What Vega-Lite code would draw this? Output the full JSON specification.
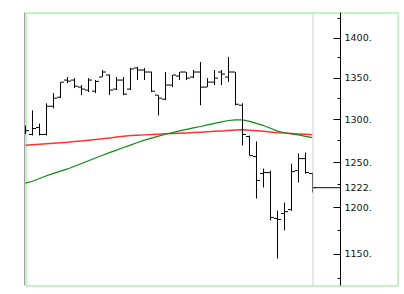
{
  "$schema": "https://vega.github.io/schema/vega-lite/v6.json",
  "width": 372,
  "height": 273,
  "autosize": "none",
  "padding": {"left": 25.5, "top": 12.5, "right": 6.5, "bottom": 8.5},
  "background": "white",
  "config": {
    "view": {"stroke": "#88e888", "strokeWidth": 1},
    "axis": {"translate": 0}
  },
  "data": {"values": [
    {"i":0,"o":1288,"h":1293,"l":1283,"c":1287,"s":1227.0,"g":1270.0},
    {"i":1,"o":1282.6,"h":1311.0,"l":1281.4,"c":1289.5,"s":1229.2,"g":1270.5},
    {"i":2,"o":1290.7,"h":1295.3,"l":1281.4,"c":1282.6,"s":1232.3,"g":1271.1},
    {"i":3,"o":1282.6,"h":1319.5,"l":1281.4,"c":1315.9,"s":1235.3,"g":1271.7},
    {"i":4,"o":1315.9,"h":1331.7,"l":1313.4,"c":1325.6,"s":1238.0,"g":1272.3},
    {"i":5,"o":1326.8,"h":1345.1,"l":1325.6,"c":1345.1,"s":1240.5,"g":1272.9},
    {"i":6,"o":1347.6,"h":1351.3,"l":1343.9,"c":1346.3,"s":1243.0,"g":1273.5},
    {"i":7,"o":1347.6,"h":1350,"l":1337.8,"c":1340.2,"s":1246.1,"g":1274.3},
    {"i":8,"o":1339.0,"h":1341.5,"l":1329.3,"c":1336.6,"s":1249.2,"g":1275.1},
    {"i":9,"o":1335.4,"h":1350,"l":1332.9,"c":1347.6,"s":1252.3,"g":1275.9},
    {"i":10,"o":1334.1,"h":1347.6,"l":1331.7,"c":1346,"s":1255.4,"g":1276.7},
    {"i":11,"o":1351.3,"h":1360,"l":1351.3,"c":1357.5,"s":1258.6,"g":1277.5},
    {"i":12,"o":1353.8,"h":1354.5,"l":1329.3,"c":1335.4,"s":1261.6,"g":1278.5},
    {"i":13,"o":1336.6,"h":1351.3,"l":1335.4,"c":1347.6,"s":1264.5,"g":1279.5},
    {"i":14,"o":1347.6,"h":1351.3,"l":1329.3,"c":1330.5,"s":1267.4,"g":1280.4},
    {"i":15,"o":1336.6,"h":1362.5,"l":1335.4,"c":1361.3,"s":1270.2,"g":1281.3},
    {"i":16,"o":1362.5,"h":1363.8,"l":1347.6,"c":1360,"s":1273.2,"g":1281.7},
    {"i":17,"o":1360,"h":1362.5,"l":1347.6,"c":1357.5,"s":1276.0,"g":1282.1},
    {"i":18,"o":1357.5,"h":1358,"l":1332.9,"c":1334.1,"s":1278.4,"g":1282.5},
    {"i":19,"o":1329.3,"h":1329.3,"l":1304.9,"c":1325.6,"s":1280.6,"g":1282.9},
    {"i":20,"o":1324.4,"h":1357.5,"l":1323.2,"c":1341.5,"s":1282.8,"g":1283.3},
    {"i":21,"o":1341.5,"h":1353.8,"l":1339.0,"c":1353.8,"s":1284.8,"g":1283.7},
    {"i":22,"o":1352.5,"h":1357.5,"l":1347.6,"c":1357.5,"s":1286.7,"g":1284.0},
    {"i":23,"o":1357.5,"h":1357.5,"l":1347.6,"c":1350,"s":1288.5,"g":1284.4},
    {"i":24,"o":1351.3,"h":1360,"l":1350,"c":1357.5,"s":1290.3,"g":1284.8},
    {"i":25,"o":1357.5,"h":1370,"l":1317.1,"c":1339.0,"s":1291.9,"g":1285.2},
    {"i":26,"o":1339.0,"h":1350,"l":1339.0,"c":1345.1,"s":1293.8,"g":1285.7},
    {"i":27,"o":1345.1,"h":1360,"l":1341.5,"c":1350,"s":1295.6,"g":1286.2},
    {"i":28,"o":1357.5,"h":1360,"l":1341.5,"c":1355,"s":1297.4,"g":1286.7},
    {"i":29,"o":1351.3,"h":1376.3,"l":1345.1,"c":1357.5,"s":1299.0,"g":1287.2},
    {"i":30,"o":1357.5,"h":1357.5,"l":1317.1,"c":1318.3,"s":1299.8,"g":1287.7},
    {"i":31,"o":1317.1,"h":1319.5,"l":1269.8,"c":1282.6,"s":1299.6,"g":1288.0},
    {"i":32,"o":1280.2,"h":1281.4,"l":1258.1,"c":1258.1,"s":1298.0,"g":1287.6},
    {"i":33,"o":1257.0,"h":1274.4,"l":1210.0,"c":1230.0,"s":1295.5,"g":1287.0},
    {"i":34,"o":1237.8,"h":1243.3,"l":1222.2,"c":1238.9,"s":1293.0,"g":1286.3},
    {"i":35,"o":1238.9,"h":1241.1,"l":1186.2,"c":1189.4,"s":1289.8,"g":1285.5},
    {"i":36,"o":1188.3,"h":1196.8,"l":1145.7,"c":1187.2,"s":1286.5,"g":1284.6},
    {"i":37,"o":1193.6,"h":1205.6,"l":1175.5,"c":1195.7,"s":1284.6,"g":1284.2},
    {"i":38,"o":1197.9,"h":1248.9,"l":1196.5,"c":1240.0,"s":1283.3,"g":1283.7},
    {"i":39,"o":1241.1,"h":1260.5,"l":1227.8,"c":1254.7,"s":1282.0,"g":1283.2},
    {"i":40,"o":1254.7,"h":1261.6,"l":1237.8,"c":1238.9,"s":1280.4,"g":1282.7},
    {"i":41,"o":1237.8,"h":1238.9,"l":1216.7,"c":1222,"s":1278.9,"g":1282.2}
  ]},
  "resolve": {"axis": {"y": "independent"}},
  "layer": [
    {
      "mark": {"type": "line", "color": "#ff3333", "strokeWidth": 1.5, "interpolate": "linear"},
      "encoding": {
        "x": {"field": "i", "type": "quantitative", "scale": {"domain": [0, 53.1429], "nice": false, "zero": false}, "axis": null},
        "y": {"field": "g", "type": "quantitative",
              "scale": {"type": "log", "domain": [1118, 1433], "nice": false, "zero": false},
              "axis": {"orient": "right", "offset": -57, "title": null, "values": [1150, 1200, 1222, 1250, 1300, 1350, 1400],
                       "labelExpr": "datum.value + '.'", "ticks": false, "grid": false, "domain": true, "domainColor": "#000", "domainWidth": 1,
                       "labelPadding": 4, "labelFont": "DejaVu Sans", "labelFontSize": 9.5, "labelColor": "#111", "labelOverlap": false, "labelFlush": false}}
      }
    },
    {
      "mark": {"type": "line", "color": "#108a10", "strokeWidth": 1.2},
      "encoding": {
        "x": {"field": "i", "type": "quantitative", "scale": {"domain": [0, 53.1429], "nice": false, "zero": false}, "axis": null},
        "y": {"field": "s", "type": "quantitative",
              "scale": {"type": "log", "domain": [1118, 1433], "nice": false, "zero": false},
              "axis": {"orient": "right", "offset": -57, "title": null, "values": [1150, 1200, 1250, 1300, 1350, 1400],
                       "labels": false, "ticks": true, "tickSize": -7, "tickColor": "#000", "grid": false, "domain": false}}
      }
    },
    {
      "mark": {"type": "rule", "color": "#000", "strokeWidth": 1},
      "encoding": {
        "x": {"field": "i", "type": "quantitative", "scale": {"domain": [0, 53.1429], "nice": false, "zero": false}, "axis": null},
        "y": {"field": "h", "type": "quantitative",
              "scale": {"type": "log", "domain": [1118, 1433], "nice": false, "zero": false},
              "axis": {"orient": "right", "offset": -57, "title": null, "values": [1125, 1175, 1225, 1275, 1325, 1375, 1425],
                       "labels": false, "ticks": true, "tickSize": -3, "tickColor": "#000", "grid": false, "domain": false}},
        "y2": {"field": "l"}
      }
    },
    {
      "mark": {"type": "rule", "color": "#000", "strokeWidth": 1, "xOffset": -3.5, "x2Offset": -0.5, "clip": true},
      "encoding": {
        "x": {"field": "i", "type": "quantitative", "scale": {"domain": [0, 53.1429], "nice": false, "zero": false}, "axis": null},
        "x2": {"field": "i"},
        "y": {"field": "o", "type": "quantitative",
              "scale": {"type": "log", "domain": [1118, 1433], "nice": false, "zero": false},
              "axis": {"orient": "left", "offset": 1, "title": null, "labels": false, "ticks": false, "grid": false,
                       "domain": true, "domainColor": "#a0a0a0", "domainWidth": 1}}
      }
    },
    {
      "mark": {"type": "rule", "color": "#000", "strokeWidth": 1, "xOffset": 0.5, "x2Offset": 3.5},
      "encoding": {
        "x": {"field": "i", "type": "quantitative", "scale": {"domain": [0, 53.1429], "nice": false, "zero": false}, "axis": null},
        "x2": {"field": "i"},
        "y": {"field": "c", "type": "quantitative",
              "scale": {"type": "log", "domain": [1118, 1433], "nice": false, "zero": false}, "axis": null}
      }
    },
    {
      "data": {"values": [{"sep": 41.0714}]},
      "mark": {"type": "rule", "color": "#d0d0d0", "strokeWidth": 1},
      "encoding": {
        "x": {"field": "sep", "type": "quantitative", "scale": {"domain": [0, 53.1429], "nice": false, "zero": false}, "axis": null}
      }
    },
    {
      "data": {"values": [{"from": 41.1429, "to": 45.0, "last": 1222}]},
      "mark": {"type": "rule", "color": "#000050", "strokeWidth": 1},
      "encoding": {
        "x": {"field": "from", "type": "quantitative", "scale": {"domain": [0, 53.1429], "nice": false, "zero": false}, "axis": null},
        "x2": {"field": "to"},
        "y": {"field": "last", "type": "quantitative",
              "scale": {"type": "log", "domain": [1118, 1433], "nice": false, "zero": false}, "axis": null}
      }
    }
  ]
}
